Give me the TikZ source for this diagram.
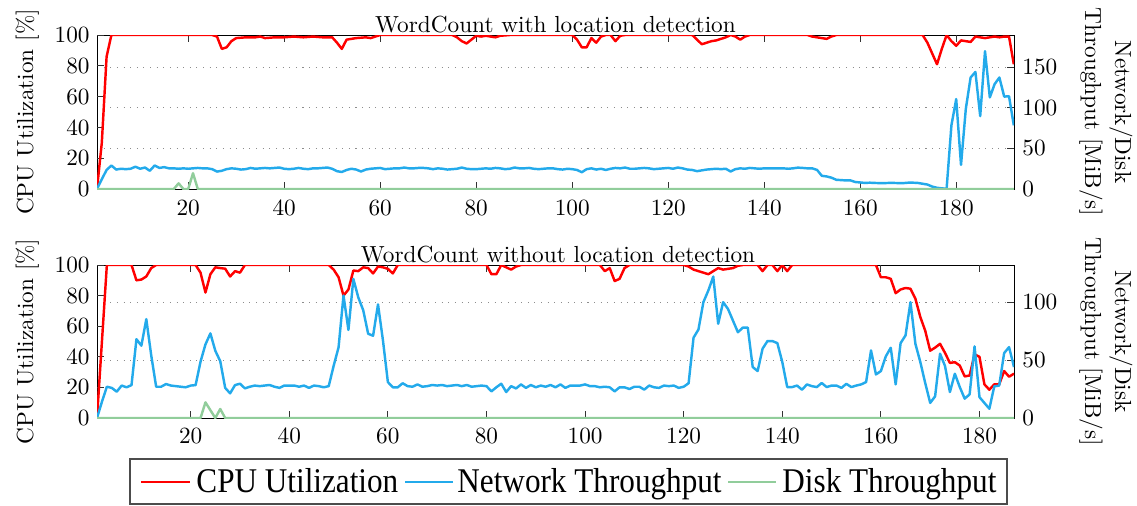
\documentclass[tikz,border=0pt]{standalone}
\usepackage{fontspec}
\newfontfamily\legendfont[FakeStretch=0.9]{Liberation Serif}
\definecolor{cpured}{RGB}{255,0,0}
\definecolor{netblue}{RGB}{35,170,235}
\definecolor{diskgreen}{RGB}{145,205,155}
\tikzset{
  cpu/.style={cpured, line width=1.05pt, line join=round},
  net/.style={netblue, line width=1.05pt, line join=round},
  disk/.style={diskgreen, line width=1.05pt, line join=round},
  axisframe/.style={black, line width=0.4pt},
  gridline/.style={black!45, line width=0.45pt, dash pattern=on 0.45pt off 2.4pt},
  tickmark/.style={black!80, line width=0.4pt},
  ticklabel/.style={inner sep=0pt},
  legendbox/.style={draw=black!70, line width=1pt},
  legendtext/.style={inner sep=0pt, anchor=base west, font=\legendfont\fontsize{14.9}{17}\selectfont},
}
\begin{document}
\begin{tikzpicture}[x=0.43pt, y=-0.43pt]
\useasboundingbox (0,0) rectangle (1137,505);

% ---------------- upper panel: with location detection ----------------
\foreach \v in {50,100,150} {
  \pgfmathsetmacro\py{189-0.8105*\v}
  \draw[gridline] (97,\py) -- (1014,\py);
}
\draw[axisframe] (97,35) rectangle (1014,189);
\foreach \c in {0,20,...,100} {
  \pgfmathsetmacro\py{189-1.54*\c}
  \draw[tickmark] (97,\py) -- ++(6.6,0);
  \node[ticklabel, anchor=east] (tl\c) at (90,\py) {\c};
}
\foreach \v in {0,50,100,150} {
  \pgfmathsetmacro\py{189-0.8105*\v}
  \draw[tickmark] (1014,\py) -- ++(-6.6,0);
  \node[ticklabel, anchor=west] (tr\v) at (1022,\py) {\v};
}
\foreach \x in {20,40,...,180} {
  \pgfmathsetmacro\px{92.2+4.8*\x}
  \draw[tickmark] (\px,189) -- ++(0,-6.6);
  \draw[tickmark] (\px,35) -- ++(0,6.6);
  \node[ticklabel, anchor=base] (tx\x) at (\px,215) {\x};
}
\node[anchor=base, inner sep=0pt] (titleA) at (555.5,32) {WordCount with location detection};
\node[rotate=90, anchor=base, inner sep=0pt] (ylA) at (33,112) {CPU Utilization [\%]};
\node[rotate=-90, anchor=base, inner sep=0pt] (yrA1) at (1115,112) {Network/Disk};
\node[rotate=-90, anchor=base, inner sep=0pt] (yrA2) at (1085,112) {Throughput [MiB/s]};

\begin{scope}
\clip (97,35) rectangle (1014,189);
\begin{scope}[shift={(39.646pt,-81.27pt)}, x=2.064pt, y=0.6622pt]
\draw[cpu] plot coordinates {(1,0) (2,30) (3,86) (4,100) (25,100) (26,99) (27,91) (28,92) (29,96) (30,98) (32,98.5) (34,98.5) (35,99) (36,98) (38,98.5) (40,98.5) (42,99) (44,98.5) (46,99) (48,98.5) (50,98.5) (51,95) (52,91) (53,97) (55,98) (57,98.5) (58,98) (60,100) (75,100) (76,98.5) (77,96) (78,94.5) (79,97) (80,99.5) (81,99) (82,99.5) (83,99) (84,98.5) (85,99.5) (87,100) (100,100) (101,97) (102,92) (103,92) (104,98) (105,95) (106,99) (107,100) (108,100) (109,96) (110,99.5) (111,100) (125,100) (126,97) (127,94) (128,95) (129,96) (130,96.5) (131,97.5) (132,98.5) (133,100) (134,99) (135,97) (136,99) (137,100) (149,100) (150,99) (151,98.5) (152,98) (153,97.5) (154,99) (155,100) (173,100) (174,95) (175,88) (176,81) (177,91) (178,100) (179,96) (180,93) (181,96.5) (182,96) (183,95.5) (184,99) (185,98.5) (186,98) (187,98.5) (188,99) (189,98.5) (190,99) (191,99) (192,81)};
\end{scope}
\begin{scope}[shift={(39.646pt,-81.27pt)}, x=2.064pt, y=0.34853pt]
\draw[net] plot coordinates {(1,0) (2,12) (3,23.6) (4,29) (5,24) (6,25) (7,24.5) (8,25) (9,27.5) (10,25) (11,26.5) (12,22.5) (13,29) (14,26) (15,27) (16,25.5) (17,25.5) (18,25) (19,25.5) (20,25) (21,25.5) (22,26) (23,25.5) (24,25.5) (25,24.5) (26,21.5) (27,22.5) (28,24.5) (29,25.5) (30,25) (31,24) (32,24.5) (33,26) (34,25) (35,25.5) (36,26) (37,25.5) (38,26) (39,26.5) (40,25) (41,24.5) (42,25) (43,26) (44,25) (45,24.5) (46,25.5) (47,25.5) (48,26) (49,26.5) (50,25) (51,22) (52,21) (53,23.5) (54,25) (55,24) (56,21.6) (57,24) (58,25) (59,25.5) (60,26) (61,24.5) (62,25) (63,25.5) (64,25.5) (65,26.5) (66,25.5) (67,25.5) (68,26) (69,26) (70,25.5) (71,24.5) (72,25.5) (73,25) (74,24) (75,24.5) (76,25) (77,26.5) (78,25) (79,24.5) (80,24.5) (81,25) (82,25.5) (83,25) (84,26) (85,25.5) (86,24.5) (87,25) (88,26.5) (89,25.5) (90,25.5) (91,26) (92,25) (93,24.5) (94,25) (95,25.5) (96,25.5) (97,24.5) (98,24) (99,25) (100,24.5) (101,23.5) (102,20.7) (103,24.5) (104,25.5) (105,24) (106,25) (107,23.5) (108,25) (109,26) (110,25.5) (111,26.5) (112,25) (113,25) (114,25.5) (115,26) (116,25.5) (117,24.5) (118,25) (119,25.5) (120,26) (121,25) (122,26.5) (123,25.5) (124,24) (125,23.5) (126,22) (127,23) (128,24) (129,24.5) (130,25) (131,24.5) (132,25) (133,21.6) (134,24.5) (135,25.5) (136,25) (137,26) (138,25.5) (139,25) (140,25.5) (141,25.5) (142,25.5) (143,25.5) (144,25.5) (145,25) (146,25.5) (147,26.4) (148,26) (149,25.5) (150,25.5) (151,23.6) (152,16.3) (153,15.5) (154,14) (155,11.4) (156,11) (157,10.6) (158,10.6) (159,8.6) (160,8.1) (161,7.5) (162,7.8) (163,7.5) (164,7.3) (165,7.3) (166,7.5) (167,7.5) (168,7.3) (169,7.3) (170,7.8) (171,7.8) (172,7.5) (173,6.5) (174,5.5) (175,3) (176,1.5) (177,0.8) (178,0.4) (179,78.5) (180,111) (181,29.7) (182,98.9) (183,137.6) (184,144.4) (185,90) (186,170) (187,113) (188,129.4) (189,137.6) (190,114) (191,114.5) (192,78.5)};
\draw[disk] plot coordinates {(1,0) (17,0) (18,7) (19,0) (20,0) (21,19.5) (22,0) (192,0)};
\end{scope}
\end{scope}

% ---------------- lower panel: without location detection ----------------
\foreach \v in {50,100} {
  \pgfmathsetmacro\py{418-1.1591*\v}
  \draw[gridline] (97,\py) -- (1014,\py);
}
\draw[axisframe] (97,265) rectangle (1014,418);
\foreach \c in {0,20,...,100} {
  \pgfmathsetmacro\py{418-1.53*\c}
  \draw[tickmark] (97,\py) -- ++(6.6,0);
  \node[ticklabel, anchor=east] (bl\c) at (90,\py) {\c};
}
\foreach \v in {0,50,100} {
  \pgfmathsetmacro\py{418-1.1591*\v}
  \draw[tickmark] (1014,\py) -- ++(-6.6,0);
  \node[ticklabel, anchor=west] (br\v) at (1022,\py) {\v};
}
\foreach \x in {20,40,...,180} {
  \pgfmathsetmacro\px{92.07+4.93*\x}
  \draw[tickmark] (\px,418) -- ++(0,-6.6);
  \draw[tickmark] (\px,265) -- ++(0,6.6);
  \node[ticklabel, anchor=base] (bx\x) at (\px,443) {\x};
}
\node[anchor=base, inner sep=0pt] (titleB) at (558,262) {WordCount without location detection};
\node[rotate=90, anchor=base, inner sep=0pt] (ylB) at (33,341.5) {CPU Utilization [\%]};
\node[rotate=-90, anchor=base, inner sep=0pt] (yrB1) at (1115,341.5) {Network/Disk};
\node[rotate=-90, anchor=base, inner sep=0pt] (yrB2) at (1085,341.5) {Throughput [MiB/s]};

\begin{scope}
\clip (97,265) rectangle (1014,418);
\begin{scope}[shift={(39.59pt,-179.74pt)}, x=2.1199pt, y=0.6579pt]
\draw[cpu] plot coordinates {(1,0) (2,50) (3,100) (8,100) (9,90) (10,90.5) (11,92.5) (12,98) (13,100) (21,100) (22,95) (23,82) (24,94) (25,98.5) (26,98) (27,97.6) (28,92.5) (29,96) (30,95) (31,100) (48,100) (49,97) (50,92) (51,80) (52,84) (53,96.4) (54,96) (55,98.5) (56,98) (57,94.5) (58,99) (59,98.5) (60,97.5) (61,94.5) (62,100) (80,100) (81,94) (82,94) (83,100) (84,98.5) (85,97) (86,99) (87,100) (103,100) (104,96) (105,98) (106,89.5) (107,91) (108,98) (109,100) (120,100) (121,99) (122,97) (123,96) (124,95) (125,94) (126,96) (127,98) (128,97) (129,97.5) (130,98) (131,99.5) (132,100) (135,100) (136,96) (137,100) (138,100) (139,96) (140,100) (141,96) (142,100) (159,100) (160,92) (161,92) (162,91) (163,81.6) (164,84) (165,85) (166,84.5) (167,78) (168,66) (169,57) (170,44) (171,46) (172,48.5) (173,42.6) (174,36) (175,36.5) (176,34.3) (177,27.2) (178,27.8) (179,41.6) (180,40) (181,22) (182,18.5) (183,22) (184,22) (185,30.7) (186,27) (187,29)};
\end{scope}
\begin{scope}[shift={(39.59pt,-179.74pt)}, x=2.1199pt, y=0.49841pt]
\draw[net] plot coordinates {(1,0) (2,14) (3,27) (4,26) (5,22.7) (6,28) (7,26.5) (8,28.4) (9,68) (10,62.4) (11,85.3) (12,54) (13,27) (14,27) (15,29.3) (16,28) (17,27.5) (18,27) (19,26.5) (20,28) (21,28.4) (22,48.6) (23,63.5) (24,73) (25,58) (26,49) (27,26) (28,21.3) (29,28.4) (30,29.6) (31,25.6) (32,27) (33,28) (34,27.5) (35,28) (36,28.5) (37,27) (38,26) (39,28) (40,28) (41,28) (42,27) (43,28) (44,26) (45,28) (46,27.5) (47,26.5) (48,27.5) (49,45) (50,61) (51,105.7) (52,76) (53,120) (54,104) (55,93) (56,72.7) (57,71) (58,98) (59,67) (60,31) (61,26.5) (62,26.5) (63,30) (64,27.5) (65,27) (66,29) (67,27) (68,27.5) (69,28.5) (70,28) (71,28.5) (72,27.5) (73,28) (74,28.5) (75,27.5) (76,28.5) (77,27) (78,27.5) (79,28) (80,27.5) (81,23) (82,26.5) (83,29.6) (84,22.4) (85,27.5) (86,25.5) (87,29) (88,26) (89,28.5) (90,26.5) (91,28) (92,27) (93,28.5) (94,26.5) (95,29) (96,26) (97,28) (98,28) (99,28) (100,29) (101,27.5) (102,27.5) (103,26.5) (104,27) (105,26.5) (106,23) (107,26.5) (108,26.5) (109,25) (110,27) (111,27) (112,24.5) (113,28) (114,26.5) (115,26) (116,28) (117,27.5) (118,28) (119,26) (120,27) (121,30) (122,69.3) (123,76.4) (124,100) (125,110) (126,122) (127,81.3) (128,100) (129,94) (130,84) (131,74) (132,78) (133,78) (134,44) (135,40.5) (136,59.8) (137,66.4) (138,66.4) (139,64.6) (140,48.3) (141,26.7) (142,26.7) (143,28) (144,24.4) (145,29) (146,27.5) (147,26.7) (148,30.2) (149,26.7) (150,28) (151,28) (152,26) (153,29.5) (154,26.7) (155,28) (156,29) (157,31) (158,58.3) (159,37.6) (160,40.5) (161,53.2) (162,60.6) (163,29) (164,64.6) (165,71.3) (166,100) (167,64) (168,48.3) (169,30) (170,13) (171,18.7) (172,55.5) (173,45) (174,22.4) (175,38.2) (176,26.7) (177,16.7) (178,20.4) (179,61.8) (180,18) (181,13) (182,8) (183,27.3) (184,28) (185,56) (186,61.2) (187,44)};
\draw[disk] plot coordinates {(1,0) (22,0) (23,13.5) (25,0) (26,7.8) (27,0) (187,0)};
\end{scope}
\end{scope}

% ---------------- legend ----------------
\node[legendbox, inner sep=0pt, minimum width=877*0.43pt, minimum height=45*0.43pt, anchor=north west] (legend) at (129,458) {};
\coordinate (lgA1) at (141,482); \coordinate (lgA2) at (190,482);
\coordinate (lgB1) at (405,482); \coordinate (lgB2) at (453,482);
\coordinate (lgC1) at (728,482); \coordinate (lgC2) at (776,482);
\draw[cpu] (lgA1) -- (lgA2);
\draw[net] (lgB1) -- (lgB2);
\draw[disk] (lgC1) -- (lgC2);
\node[legendtext] (lgtA) at (196,492) {CPU Utilization};
\node[legendtext] (lgtB) at (457,492) {Network Throughput};
\node[legendtext] (lgtC) at (782,492) {Disk Throughput};
\end{tikzpicture}
\end{document}
